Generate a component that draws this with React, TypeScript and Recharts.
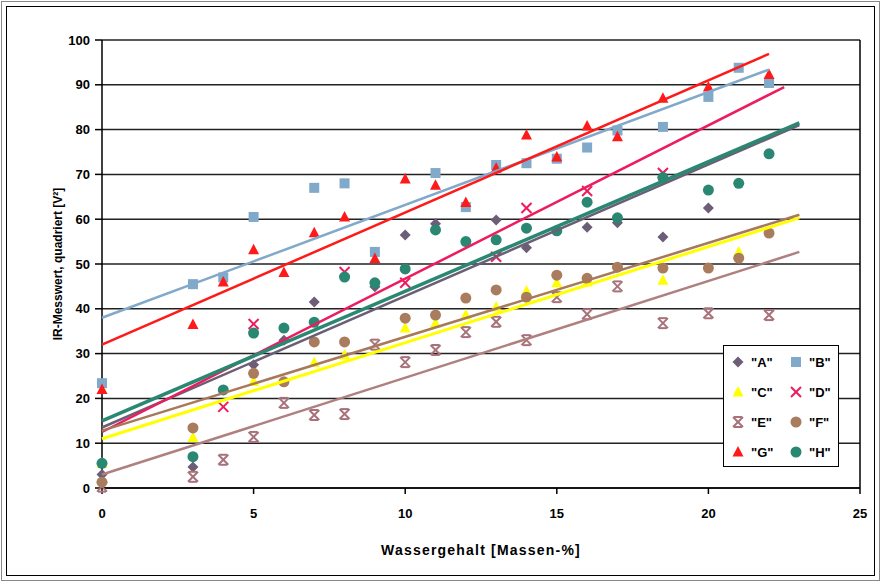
import React from 'react';
import { ScatterChart, Scatter, XAxis, YAxis, CartesianGrid, ReferenceLine } from 'recharts';

// measured points per series (x = Wassergehalt, y = IR-Messwert)
const seriesA = [
  { x: 0, y: 3 }, { x: 3, y: 4.7 }, { x: 5, y: 27.5 }, { x: 6, y: 33 }, { x: 7, y: 41.5 },
  { x: 9, y: 44.9 }, { x: 10, y: 56.5 }, { x: 11, y: 59 }, { x: 13, y: 59.8 }, { x: 14, y: 53.6 },
  { x: 16, y: 58.2 }, { x: 17, y: 59.2 }, { x: 18.5, y: 56 }, { x: 20, y: 62.5 },
];
const seriesB = [
  { x: 0, y: 23.4 }, { x: 3, y: 45.5 }, { x: 4, y: 47 }, { x: 5, y: 60.5 }, { x: 7, y: 67 },
  { x: 8, y: 68 }, { x: 9, y: 52.7 }, { x: 11, y: 70.3 }, { x: 12, y: 62.7 }, { x: 13, y: 72.1 },
  { x: 14, y: 72.5 }, { x: 15, y: 73.5 }, { x: 16, y: 76 }, { x: 17, y: 79.8 }, { x: 18.5, y: 80.6 },
  { x: 20, y: 87.3 }, { x: 21, y: 93.8 }, { x: 22, y: 90.4 },
];
const seriesC = [
  { x: 0, y: 5.5 }, { x: 3, y: 11.3 }, { x: 5, y: 23.8 }, { x: 7, y: 28 }, { x: 8, y: 29.7 },
  { x: 10, y: 35.7 }, { x: 11, y: 36.8 }, { x: 12, y: 38.6 }, { x: 13, y: 40.4 }, { x: 14, y: 44 },
  { x: 15, y: 45.8 }, { x: 16, y: 46 }, { x: 18.5, y: 46.4 }, { x: 21, y: 52.7 },
];
const seriesD = [
  { x: 4, y: 18.1 }, { x: 5, y: 36.6 }, { x: 8, y: 48.2 }, { x: 10, y: 45.8 }, { x: 13, y: 51.6 },
  { x: 14, y: 62.5 }, { x: 16, y: 66.3 }, { x: 18.5, y: 70.3 },
];
const seriesE = [
  { x: 0, y: 0.3 }, { x: 3, y: 2.5 }, { x: 4, y: 6.3 }, { x: 5, y: 11.4 }, { x: 6, y: 19 },
  { x: 7, y: 16.3 }, { x: 8, y: 16.5 }, { x: 9, y: 32 }, { x: 10, y: 28.1 }, { x: 11, y: 30.8 },
  { x: 12, y: 34.8 }, { x: 13, y: 37.1 }, { x: 14, y: 33 }, { x: 15, y: 42.6 }, { x: 16, y: 38.8 },
  { x: 17, y: 45 }, { x: 18.5, y: 36.8 }, { x: 20, y: 39 }, { x: 22, y: 38.6 },
];
const seriesF = [
  { x: 0, y: 1.3 }, { x: 3, y: 13.4 }, { x: 5, y: 25.6 }, { x: 6, y: 23.7 }, { x: 7, y: 32.6 },
  { x: 8, y: 32.6 }, { x: 10, y: 37.9 }, { x: 11, y: 38.6 }, { x: 12, y: 42.4 }, { x: 13, y: 44.2 },
  { x: 14, y: 42.6 }, { x: 15, y: 47.5 }, { x: 16, y: 46.8 }, { x: 17, y: 49.3 }, { x: 18.5, y: 49.1 },
  { x: 20, y: 49.1 }, { x: 21, y: 51.3 }, { x: 22, y: 56.9 },
];
const seriesG = [
  { x: 0, y: 22 }, { x: 3, y: 36.5 }, { x: 4, y: 46 }, { x: 5, y: 53.2 }, { x: 6, y: 48.1 },
  { x: 7, y: 57 }, { x: 8, y: 60.5 }, { x: 9, y: 51.2 }, { x: 10, y: 69 }, { x: 11, y: 67.6 },
  { x: 12, y: 63.7 }, { x: 13, y: 71.4 }, { x: 14, y: 78.8 }, { x: 15, y: 73.9 }, { x: 16, y: 80.8 },
  { x: 17, y: 78.4 }, { x: 18.5, y: 87 }, { x: 20, y: 89.5 }, { x: 22, y: 92.3 },
];
const seriesH = [
  { x: 0, y: 5.5 }, { x: 3, y: 7 }, { x: 4, y: 21.9 }, { x: 5, y: 34.6 }, { x: 6, y: 35.7 },
  { x: 7, y: 37 }, { x: 8, y: 47.1 }, { x: 9, y: 45.8 }, { x: 10, y: 48.9 }, { x: 11, y: 57.6 },
  { x: 12, y: 55 }, { x: 13, y: 55.4 }, { x: 14, y: 58 }, { x: 15, y: 57.4 }, { x: 16, y: 63.8 },
  { x: 17, y: 60.3 }, { x: 18.5, y: 69.3 }, { x: 20, y: 66.5 }, { x: 21, y: 68 }, { x: 22, y: 74.6 },
];

// trend line ends
const trendA = [{ x: 0, y: 13.5 }, { x: 23, y: 81 }];
const trendB = [{ x: 0, y: 38 }, { x: 22, y: 93.4 }];
const trendC = [{ x: 0, y: 11 }, { x: 23, y: 60.3 }];
const trendD = [{ x: 0, y: 12.5 }, { x: 22.5, y: 89.5 }];
const trendE = [{ x: 0, y: 3 }, { x: 23, y: 52.7 }];
const trendF = [{ x: 0, y: 12.8 }, { x: 23, y: 61 }];
const trendG = [{ x: 0, y: 32 }, { x: 22, y: 96.9 }];
const trendH = [{ x: 0, y: 15 }, { x: 23, y: 81.5 }];

const xTicks = [0, 5, 10, 15, 20, 25];
const yTicks = [0, 10, 20, 30, 40, 50, 60, 70, 80, 90, 100];
const seriesNames = ['"A"', '"B"', '"C"', '"D"', '"E"', '"F"', '"G"', '"H"'];

const FONT = '"Liberation Sans", Arial, sans-serif';

const Diamond = ({ cx, cy, fill }: any) => (
  <polygon points={`${cx},${cy - 5.5} ${cx + 5.5},${cy} ${cx},${cy + 5.5} ${cx - 5.5},${cy}`} fill={fill} />
);
const Square = ({ cx, cy, fill }: any) => <rect x={cx - 5} y={cy - 5} width={10} height={10} fill={fill} />;
const Triangle = ({ cx, cy, fill }: any) => (
  <polygon points={`${cx},${cy - 6} ${cx + 5.5},${cy + 4.5} ${cx - 5.5},${cy + 4.5}`} fill={fill} />
);
const Cross = ({ cx, cy, fill }: any) => (
  <g stroke={fill} strokeWidth={2}>
    <line x1={cx - 5} y1={cy - 5} x2={cx + 5} y2={cy + 5} />
    <line x1={cx - 5} y1={cy + 5} x2={cx + 5} y2={cy - 5} />
  </g>
);
const Star = ({ cx, cy, fill }: any) => (
  <g stroke={fill} strokeWidth={2}>
    <line x1={cx - 5} y1={cy - 5} x2={cx + 5} y2={cy + 5} />
    <line x1={cx - 5} y1={cy + 5} x2={cx + 5} y2={cy - 5} />
    <line x1={cx - 4} y1={cy - 5} x2={cx + 4} y2={cy - 5} />
    <line x1={cx - 4} y1={cy + 5} x2={cx + 4} y2={cy + 5} />
  </g>
);
const Dot = ({ cx, cy, fill }: any) => <circle cx={cx} cy={cy} r={5.5} fill={fill} />;
const NoDot = () => <g />;

const series = [
  { data: seriesA, trend: trendA, color: '#6b5e76', line: '#6b5e76', Shape: Diamond, width: 2.5 },
  { data: seriesB, trend: trendB, color: '#80a9ca', line: '#80a9ca', Shape: Square, width: 2.5 },
  { data: seriesC, trend: trendC, color: '#ffff00', line: '#ffff00', Shape: Triangle, width: 3 },
  { data: seriesD, trend: trendD, color: '#ec1c5e', line: '#ec1c5e', Shape: Cross, width: 2.5 },
  { data: seriesE, trend: trendE, color: '#a8727a', line: '#b08080', Shape: Star, width: 2.5 },
  { data: seriesF, trend: trendF, color: '#a87c5c', line: '#a8785a', Shape: Dot, width: 2.5 },
  { data: seriesG, trend: trendG, color: '#ff1a1a', line: '#ff1a1a', Shape: Triangle, width: 2.5 },
  { data: seriesH, trend: trendH, color: '#2a8872', line: '#2a8872', Shape: Dot, width: 3.5 },
];

const LegendBox = () => (
  <div style={{ position: 'absolute', left: 723, top: 345, width: 114, height: 120, border: '1.5px solid #000', background: '#fff' }}>
    {series.map((s, i) => {
      const col = i % 2;
      const row = Math.floor(i / 2);
      const Shape = s.Shape;
      return (
        <div key={i} style={{ position: 'absolute', left: 6 + col * 58, top: 5 + row * 30, height: 22, display: 'flex', alignItems: 'center' }}>
          <svg width={16} height={16} style={{ display: 'block' }}>
            <Shape cx={8} cy={8} fill={s.color} />
          </svg>
          <span style={{ marginLeft: 5, fontFamily: FONT, fontWeight: 700, fontSize: 13, color: '#000' }}>{seriesNames[i]}</span>
        </div>
      );
    })}
  </div>
);

export default function App() {
  const tickStyle = { fill: '#000', fontSize: 13, fontWeight: 700, fontFamily: FONT };
  return (
    <div style={{ position: 'relative', width: 881, height: 582, background: '#fff' }}>
      <style>{'body{margin:0}'}</style>
      <div style={{ position: 'absolute', left: 1, top: 1, right: 1, bottom: 1, border: '1px solid #888' }} />
      <div style={{ position: 'absolute', left: 6, top: 6, right: 6, bottom: 6, border: '1.5px solid #000' }} />
      <div style={{ position: 'absolute', left: 0, top: 0 }}>
        <ScatterChart width={881} height={582} margin={{ top: 40, right: 21, bottom: 27, left: 42 }}>
          <CartesianGrid vertical={false} stroke="#222" strokeWidth={1.5} />
          <XAxis
            type="number"
            dataKey="x"
            domain={[0, 25]}
            ticks={xTicks}
            interval={0}
            height={67}
            stroke="#000"
            strokeWidth={1.5}
            tickSize={6}
            tickMargin={15}
            tick={tickStyle}
            label={{ value: 'Wassergehalt [Massen-%]', position: 'insideBottom', offset: 0, style: { ...tickStyle, fontSize: 14, letterSpacing: 1.2 } }}
          />
          <YAxis
            type="number"
            dataKey="y"
            domain={[0, 100]}
            ticks={yTicks}
            interval={0}
            width={60}
            stroke="#000"
            strokeWidth={1.5}
            tickSize={7}
            tickMargin={5}
            tick={tickStyle}
            label={{ value: 'IR-Messwert, quadriert [V²]', angle: -90, position: 'insideLeft', offset: 16, textAnchor: 'middle', style: { ...tickStyle, fontSize: 12, textAnchor: 'middle' } }}
          />
          <ReferenceLine x={25} stroke="#000" strokeWidth={1.5} />
          {series.map((s, i) => (
            <Scatter key={'p' + i} data={s.data} fill={s.color} shape={s.Shape} isAnimationActive={false} legendType="none" />
          ))}
          {series.map((s, i) => (
            <Scatter
              key={'t' + i}
              data={s.trend}
              line={{ stroke: s.line, strokeWidth: s.width }}
              shape={NoDot}
              isAnimationActive={false}
              legendType="none"
            />
          ))}
        </ScatterChart>
      </div>
      <LegendBox />
    </div>
  );
}
